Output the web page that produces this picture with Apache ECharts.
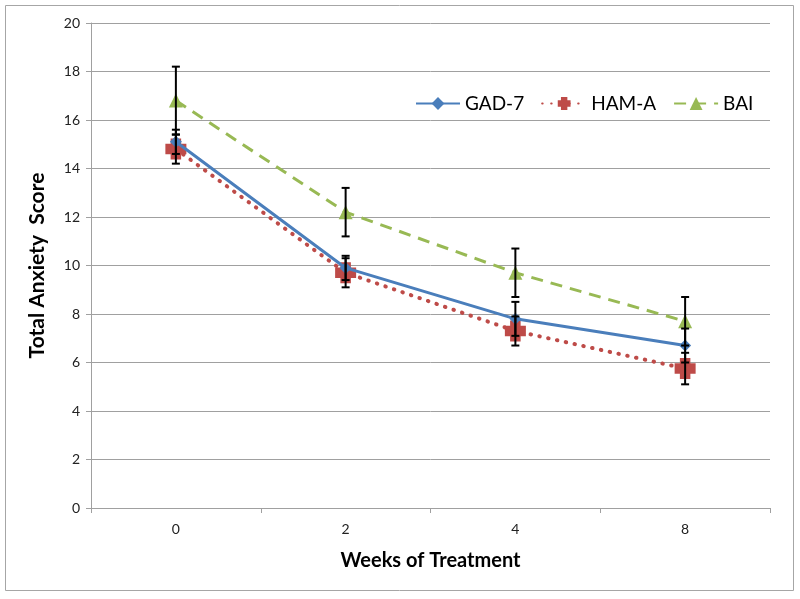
<!DOCTYPE html>
<html><head><meta charset="utf-8">
<script src="https://cdn.jsdelivr.net/npm/echarts@6/dist/echarts.min.js"></script>
<style>html,body{margin:0;padding:0;background:#fff}#c{width:800px;height:599px}</style>
</head><body><div id="c"></div>
<script>
const weeks = ['0', '2', '4', '8'];
const gad7 = [15.1, 9.9, 7.8, 6.7];
const gad7Err = [0.5, 0.5, 0.7, 0.7];
const hamA = [14.8, 9.7, 7.3, 5.75];
const hamAErr = [0.6, 0.6, 0.6, 0.65];
const bai = [16.8, 12.2, 9.7, 7.7];
const baiErr = [1.4, 1.0, 1.0, 1.0];

const font = 'Lato, "Open Sans", sans-serif';
const chart = echarts.init(document.getElementById('c'));

function errData(vals, errs) { return vals.map((v, i) => [i, v - errs[i], v + errs[i]]); }
function errRender(params, api) {
  const x = api.value(0);
  const lo = api.coord([x, api.value(1)]);
  const hi = api.coord([x, api.value(2)]);
  const w = 4;
  const st = { stroke: '#000', lineWidth: 2 };
  return { type: 'group', children: [
    { type: 'line', shape: { x1: hi[0], y1: hi[1], x2: lo[0], y2: lo[1] }, style: st },
    { type: 'line', shape: { x1: hi[0] - w, y1: hi[1], x2: hi[0] + w, y2: hi[1] }, style: st },
    { type: 'line', shape: { x1: lo[0] - w, y1: lo[1], x2: lo[0] + w, y2: lo[1] }, style: st }
  ]};
}
const errSeries = (vals, errs) => ({
  type: 'custom', renderItem: errRender, data: errData(vals, errs), z: 10,
  encode: { x: 0, y: [1, 2] }, silent: true, legendHoverLink: false
});

const plusPath = 'path://M2.5,0 H7.5 V2.5 H10 V7.5 H7.5 V10 H2.5 V7.5 H0 V2.5 H2.5 Z';

chart.setOption({
  animation: false,
  backgroundColor: '#fff',
  graphic: [{ type: 'rect', shape: { x: 5.5, y: 5.5, width: 788, height: 585 }, style: { fill: 'none', stroke: '#a6a6a6', lineWidth: 1 } }],
  grid: { left: 91, right: 30, top: 23, bottom: 91 },
  legend: {
    left: 410, top: 89, itemWidth: 44, itemHeight: 16, itemGap: 17,
    textStyle: { fontFamily: font, fontSize: 19, color: '#000' },
    data: ['GAD-7', 'HAM-A', 'BAI']
  },
  xAxis: {
    type: 'category', data: weeks, boundaryGap: true,
    name: 'Weeks of Treatment', nameLocation: 'middle', nameGap: 43,
    nameTextStyle: { fontFamily: font, fontSize: 20, fontWeight: 'bold', color: '#000' },
    axisLine: { lineStyle: { color: '#a0a0a0', width: 1 } },
    axisTick: { show: true, length: 5, lineStyle: { color: '#a0a0a0' } },
    axisLabel: { fontFamily: font, fontSize: 14, color: '#222', margin: 14 }
  },
  yAxis: {
    type: 'value', min: 0, max: 20, interval: 2,
    name: 'Total Anxiety  Score', nameLocation: 'middle', nameGap: 43,
    nameTextStyle: { fontFamily: font, fontSize: 21, fontWeight: 'bold', color: '#000' },
    axisLine: { show: true, lineStyle: { color: '#a0a0a0', width: 1 } },
    axisTick: { show: true, length: 5, lineStyle: { color: '#a0a0a0' } },
    axisLabel: { fontFamily: font, fontSize: 14, color: '#222', margin: 11 },
    splitLine: { lineStyle: { color: '#a0a0a0', width: 1 } }
  },
  series: [
    { name: 'BAI', type: 'line', data: bai, z: 3,
      symbol: 'triangle', symbolSize: 14,
      itemStyle: { color: '#98b954' },
      lineStyle: { color: '#98b954', width: 3, type: [12, 8] } },
    { name: 'HAM-A', type: 'line', data: hamA, z: 4,
      symbol: plusPath, symbolSize: 21,
      itemStyle: { color: '#be4b48' },
      lineStyle: { color: '#be4b48', width: 4, type: [0.5, 8.5], cap: 'round' } },
    { name: 'GAD-7', type: 'line', data: gad7, z: 5,
      symbol: 'diamond', symbolSize: 12,
      itemStyle: { color: '#4a7ebb' },
      lineStyle: { color: '#4a7ebb', width: 3 } },
    errSeries(bai, baiErr),
    errSeries(hamA, hamAErr),
    errSeries(gad7, gad7Err)
  ]
});
</script></body></html>
